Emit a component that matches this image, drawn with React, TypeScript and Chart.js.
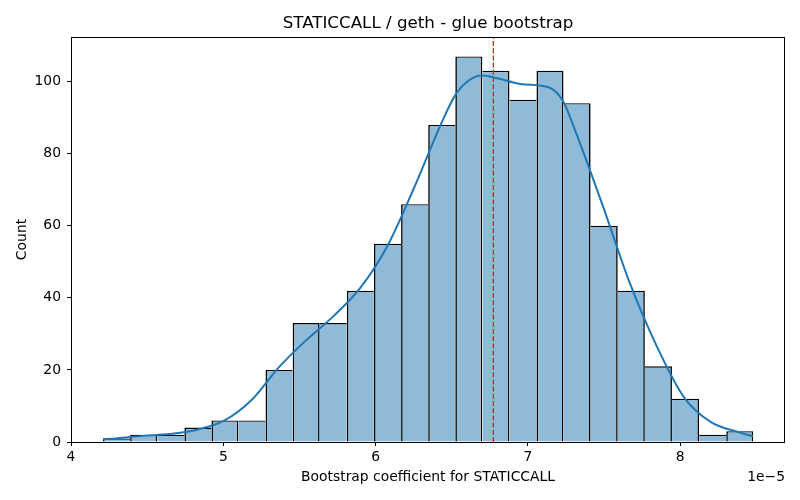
import { useEffect, useRef } from "react";
import Chart from "chart.js/auto";

// values are in units of 1e-5
const binEdges = [
  4.21, 4.388, 4.566, 4.744, 4.922, 5.1, 5.277, 5.455, 5.633, 5.811, 5.989, 6.167, 6.345,
  6.523, 6.701, 6.879, 7.056, 7.234, 7.412, 7.59, 7.768, 7.946, 8.124, 8.302, 8.48,
];
const counts = [1, 2, 2, 4, 6, 6, 20, 33, 33, 42, 55, 66, 88, 107, 103, 95, 103, 94, 60, 42, 21, 12, 2, 3];

const kdeX = [
  4.21, 4.295, 4.473, 4.65, 4.827, 5.005, 5.182, 5.366, 5.543, 5.72, 5.898, 6.075, 6.252, 6.43,
  6.522, 6.607, 6.699, 6.784, 6.961, 7.139, 7.231, 7.316, 7.493, 7.67, 7.848, 8.025, 8.202, 8.386, 8.478,
];
const kdeY = [
  0.8, 1.0, 1.7, 2.2, 3.4, 5.9, 11.5, 20.8, 28.2, 34.8, 42.7, 54.2, 70.5, 88.3,
  96.2, 100.2, 101.7, 101.1, 99.3, 98.4, 94.6, 85.8, 65.4, 44, 26.4, 12.4, 5.5, 2.7, 1.6,
];

const meanValue = 6.773;
const xTicks = [4, 5, 6, 7, 8];
const yTicks = [0, 20, 40, 60, 80, 100];
const xMin = 4;
const xMax = 8.688;
const yMax = 112.4;

const FONT = "DejaVu Sans";

const textPlugin = {
  id: "mplText",
  afterDraw(chart: any) {
    const { ctx, chartArea } = chart;
    const { left, right, top, bottom } = chartArea;
    ctx.save();
    // frame
    ctx.strokeStyle = "#000";
    ctx.lineWidth = 1;
    ctx.strokeRect(Math.round(left) + 0.5, Math.round(top) + 0.5, Math.round(right - left) - 1, Math.round(bottom - top));

    ctx.fillStyle = "#000";
    ctx.textAlign = "center";
    ctx.textBaseline = "middle";
    ctx.font = `16.7px "${FONT}"`;
    ctx.fillText("STATICCALL / geth - glue bootstrap", (left + right) / 2, 24);

    ctx.font = `13.9px "${FONT}"`;
    ctx.fillText("Bootstrap coefficient for STATICCALL", (left + right) / 2, 477);

    ctx.textAlign = "right";
    ctx.fillText("1e\u22125", right, 477);

    ctx.translate(22, (top + bottom) / 2);
    ctx.rotate(-Math.PI / 2);
    ctx.textAlign = "center";
    ctx.fillText("Count", 0, 0);
    ctx.restore();
  },
};

export default function App() {
  const canvasRef = useRef<HTMLCanvasElement>(null);
  const chartRef = useRef<Chart | null>(null);

  useEffect(() => {
    document.body.style.margin = "0";
    if (!canvasRef.current) return;
    const ctx = canvasRef.current.getContext("2d");
    if (!ctx) return;

    if (chartRef.current) chartRef.current.destroy();

    const barData = counts.map((c, i) => ({ x: (binEdges[i] + binEdges[i + 1]) / 2, y: c }));
    const kdeData = kdeX.map((x, i) => ({ x, y: kdeY[i] }));
    const last = counts.length - 1;

    // each shared edge is drawn once, by the taller of the two neighbouring bars
    const edgeWidth = (c: any) => {
      const i = c.dataIndex;
      const h = counts[i];
      const leftW = i === 0 || counts[i - 1] < h ? 1.6 : 0;
      const rightW = i === last || counts[i + 1] <= h ? 1.6 : 0;
      return { top: 1.3, bottom: 0, left: leftW, right: rightW };
    };

    chartRef.current = new Chart(ctx, {
      type: "bar",
      data: {
        datasets: [
          {
            type: "bar",
            data: barData,
            backgroundColor: "#8fbbd9",
            borderColor: "#000",
            borderSkipped: false,
            borderWidth: edgeWidth,
            barPercentage: 1,
            categoryPercentage: 1,
            inflateAmount: 0,
            order: 3,
          } as any,
          {
            type: "line",
            data: [
              { x: meanValue, y: 0 },
              { x: meanValue, y: yMax },
            ],
            borderColor: "#ff0000",
            borderWidth: 1.2,
            borderDash: [5, 2.2],
            pointRadius: 0,
            order: 2,
          },
          {
            type: "line",
            data: kdeData,
            borderColor: "#1f77b4",
            borderWidth: 2,
            pointRadius: 0,
            cubicInterpolationMode: "monotone",
            order: 1,
          },
        ],
      },
      options: {
        animation: false,
        responsive: true,
        maintainAspectRatio: false,
        layout: { padding: { top: 37, right: 15, left: 0, bottom: 0 } },
        plugins: {
          legend: { display: false },
          tooltip: { enabled: false },
          title: { display: false },
        },
        scales: {
          x: {
            type: "linear",
            min: xMin,
            max: xMax,
            offset: false,
            afterBuildTicks: (s: any) => {
              s.ticks = xTicks.map((v) => ({ value: v }));
            },
            afterFit: (s: any) => {
              s.height = 58;
            },
            border: { display: false },
            grid: {
              offset: false,
              drawOnChartArea: false,
              drawTicks: true,
              tickLength: 4,
              color: "#000",
              lineWidth: 1,
            },
            ticks: {
              color: "#000",
              padding: 3,
              maxRotation: 0,
              font: { family: FONT, size: 13.9 },
              callback: (v: any) => String(v),
            },
          },
          y: {
            type: "linear",
            min: 0,
            max: yMax,
            afterBuildTicks: (s: any) => {
              s.ticks = yTicks.map((v) => ({ value: v }));
            },
            afterFit: (s: any) => {
              s.width = 71;
            },
            border: { display: false },
            grid: { drawOnChartArea: false, drawTicks: true, tickLength: 4, color: "#000", lineWidth: 1 },
            ticks: {
              color: "#000",
              padding: 6,
              font: { family: FONT, size: 13.9 },
              callback: (v: any) => String(v),
            },
          },
        },
      },
      plugins: [textPlugin],
    });

    return () => {
      if (chartRef.current) {
        chartRef.current.destroy();
        chartRef.current = null;
      }
    };
  }, []);

  return (
    <div style={{ width: 800, height: 500, position: "relative" }}>
      <canvas ref={canvasRef} />
    </div>
  );
}
